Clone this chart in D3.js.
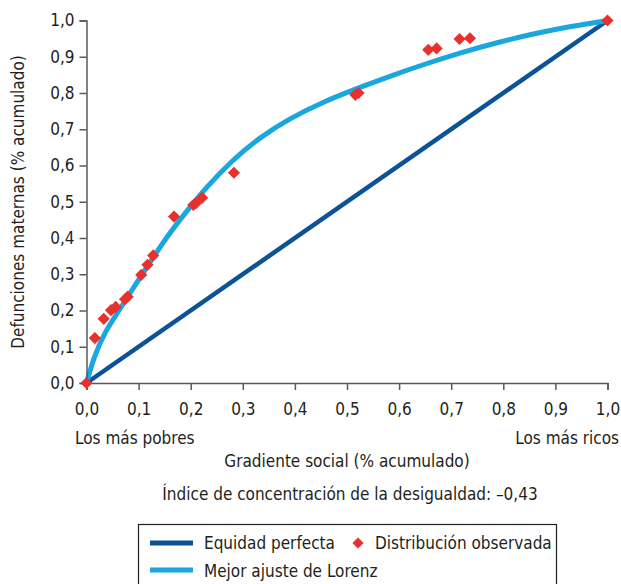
<!DOCTYPE html>
<html>
<head>
<meta charset="utf-8">
<script src="https://cdn.jsdelivr.net/npm/d3@7"></script>
<style>
  body { margin: 0; background: #fff; }
  text { font-family: "Liberation Sans Narrow", "DejaVu Sans Condensed", sans-serif; fill: #231f20; }
</style>
</head>
<body>
<div id="chart"></div>
<script>
// observed distribution (cumulative share of population vs. maternal deaths)
var obsX = [0, 0.016, 0.033, 0.047, 0.056, 0.074, 0.079, 0.105, 0.117, 0.128, 0.168, 0.205, 0.21, 0.222, 0.283, 0.516, 0.522, 0.656, 0.672, 0.716, 0.736, 1.0];
var obsY = [0, 0.124, 0.177, 0.201, 0.21, 0.231, 0.238, 0.298, 0.326, 0.352, 0.459, 0.491, 0.496, 0.511, 0.58, 0.795, 0.80, 0.919, 0.923, 0.949, 0.951, 1.0];

// best Lorenz fit
var fitX = [0, 0.015, 0.035, 0.06, 0.08, 0.1, 0.125, 0.155, 0.19, 0.23, 0.28, 0.33, 0.39, 0.455, 0.52, 0.585, 0.65, 0.72, 0.79, 0.86, 0.93, 1.0];
var fitY = [0, 0.075, 0.14, 0.195, 0.24, 0.285, 0.34, 0.405, 0.47, 0.54, 0.615, 0.675, 0.73, 0.776, 0.813, 0.848, 0.880, 0.912, 0.940, 0.964, 0.984, 1.0];

// perfect equality
var eqX = [0, 1];
var eqY = [0, 1];

var ticks = [0, 0.1, 0.2, 0.3, 0.4, 0.5, 0.6, 0.7, 0.8, 0.9, 1.0];

var width = 621, height = 584;
var dark = "#0b5396", light = "#1aa6de", red = "#e8302c", axisCol = "#58595b";
var fmt = function(d) { return d3.format(".1f")(d).replace(".", ","); };

var svg = d3.select("#chart")
    .append("svg")
    .attr("width", width)
    .attr("height", height);

var x = d3.scaleLinear().domain([0, 1]).range([86.5, 607.5]);
var y = d3.scaleLinear().domain([0, 1]).range([383, 20.5]);

var line = d3.line()
    .x(function(d) { return x(d[0]); })
    .y(function(d) { return y(d[1]); });

svg.append("path")
    .datum(d3.zip(eqX, eqY))
    .attr("d", line)
    .attr("fill", "none")
    .attr("stroke", dark)
    .attr("stroke-width", 4.5);

svg.append("path")
    .datum(d3.zip(fitX, fitY))
    .attr("d", line.curve(d3.curveBasis))
    .attr("fill", "none")
    .attr("stroke", light)
    .attr("stroke-width", 5);

// axes
var xAxis = svg.append("g")
    .attr("transform", "translate(0," + y(0) + ")")
    .call(d3.axisBottom(x).tickValues(ticks).tickFormat(fmt).tickSize(7).tickPadding(13));
var yAxis = svg.append("g")
    .attr("transform", "translate(" + x(0) + ",0)")
    .call(d3.axisLeft(y).tickValues(ticks).tickFormat(fmt).tickSize(7).tickPadding(5));

[xAxis, yAxis].forEach(function(g) {
    g.selectAll("path, line").attr("stroke", axisCol).attr("stroke-width", 1.5);
    g.selectAll("text").attr("font-size", 17).attr("fill", "#231f20")
        .style("font-family", "'Liberation Sans Narrow', 'DejaVu Sans Condensed', sans-serif");
});

// observed points
svg.selectAll(".obs")
    .data(d3.zip(obsX, obsY))
    .enter()
    .append("path")
    .attr("class", "obs")
    .attr("d", d3.symbol().type(d3.symbolDiamond2).size(95))
    .attr("transform", function(d) { return "translate(" + x(d[0]) + "," + y(d[1]) + ")"; })
    .attr("fill", red);

// labels
svg.append("text").attr("x", 75).attr("y", 444).attr("font-size", 17).text("Los más pobres");
svg.append("text").attr("x", 619).attr("y", 444).attr("font-size", 17)
    .attr("text-anchor", "end").text("Los más ricos");
svg.append("text").attr("x", 347).attr("y", 467).attr("font-size", 17)
    .attr("text-anchor", "middle").text("Gradiente social (% acumulado)");
svg.append("text")
    .attr("transform", "translate(24,202) rotate(-90)")
    .attr("font-size", 17)
    .attr("text-anchor", "middle")
    .text("Defunciones maternas (% acumulado)");
svg.append("text").attr("x", 350).attr("y", 500).attr("font-size", 17)
    .attr("text-anchor", "middle").text("Índice de concentración de la desigualdad: \u20130,43");

// legend
var legend = svg.append("g");
legend.append("rect")
    .attr("x", 138.5).attr("y", 524.5).attr("width", 418).attr("height", 70)
    .attr("fill", "none").attr("stroke", "#231f20").attr("stroke-width", 1.2);
legend.append("line").attr("x1", 150).attr("x2", 193).attr("y1", 543).attr("y2", 543)
    .attr("stroke", dark).attr("stroke-width", 5);
legend.append("text").attr("x", 204).attr("y", 549).attr("font-size", 17).text("Equidad perfecta");
legend.append("path")
    .attr("d", d3.symbol().type(d3.symbolDiamond2).size(80))
    .attr("transform", "translate(358,543)")
    .attr("fill", red);
legend.append("text").attr("x", 375).attr("y", 549).attr("font-size", 17).text("Distribución observada");
legend.append("line").attr("x1", 150).attr("x2", 193).attr("y1", 570).attr("y2", 570)
    .attr("stroke", light).attr("stroke-width", 5);
legend.append("text").attr("x", 204).attr("y", 577).attr("font-size", 17).text("Mejor ajuste de Lorenz");
</script>
</body>
</html>
